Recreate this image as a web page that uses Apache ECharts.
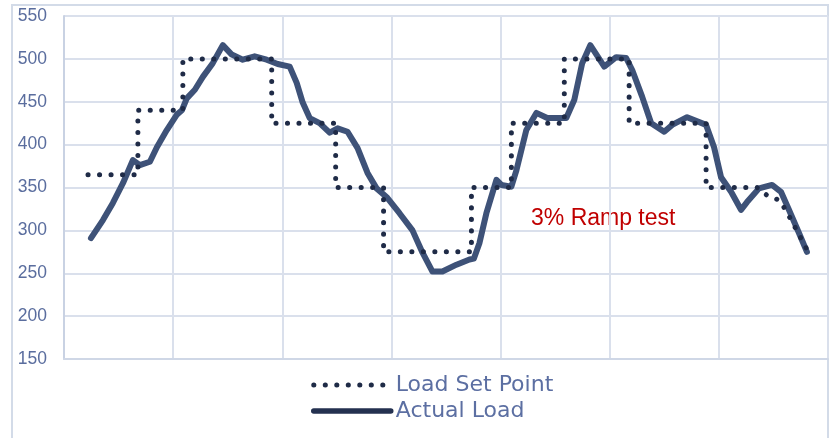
<!DOCTYPE html>
<html>
<head>
<meta charset="utf-8">
<script src="https://cdn.jsdelivr.net/npm/echarts@6/dist/echarts.min.js"></script>
<style>html,body{margin:0;padding:0;background:#fff}#c{width:831px;height:438px}</style>
</head>
<body>
<div id="c"></div>
<script>
// Time axis (grid units, 7 divisions of 10), values in load units
const yTicks = [150, 200, 250, 300, 350, 400, 450, 500, 550];
const seriesNames = ['Load Set Point', 'Actual Load'];
const annotation = '3% Ramp test';

const setPointX = [2.2,6.77,6.77,10.89,10.89,19.03,19.03,24.89,24.89,29.28,29.28,37.33,37.33,40.99,40.99,45.84,45.84,51.78,51.78,58.83,58.83,63.5,64.5,65.6,66.5,68.1];
const setPointY = [365,365,440,440,500,500,425,425,350,350,275,275,350,350,425,425,500,500,425,425,350,350,340,335,315,277];

const actualX = [2.47,3.57,4.48,5.40,6.31,6.95,7.87,8.51,9.42,10.34,10.80,11.25,11.99,12.72,13.63,14.55,15.37,16.38,17.47,18.57,19.58,20.68,21.32,21.87,22.51,23.42,24.34,25.07,25.98,26.90,27.81,28.64,29.55,30.74,31.93,32.85,33.76,34.67,35.96,37.15,37.55,38.06,38.70,39.62,40.07,40.99,41.45,42.36,43.28,44.28,46.02,46.75,47.48,48.22,49.50,50.59,51.51,52.06,52.97,53.80,54.99,55.72,57.09,58.83,59.56,60.20,61.12,62.03,62.58,63.68,64.87,65.69,66.42,67.34,68.07];
const actualY = [291,312,332,355,382,376,380,397,417,435,440,454,464,479,495,516,505,499,503,499,494,491,472,449,431,425,414,419,415,396,367,349,339,320,300,274,252,252,260,266,267,285,320,359,353,351,370,417,437,431,431,452,495,516,491,502,501,487,456,425,415,423,432,423,397,362,345,324,333,349,353,345,324,297,275];

const gridColor = '#dae0ec';
const chart = echarts.init(document.getElementById('c'), null, {renderer: 'canvas'});
chart.setOption({
  animation: false,
  backgroundColor: '#ffffff',
  grid: {left: 64, right: 3, top: 16, bottom: 79},
  xAxis: {
    type: 'value', min: 0, max: 70, interval: 10,
    axisLabel: {show: false}, axisTick: {show: false},
    axisLine: {show: true, lineStyle: {color: '#cfd7e6', width: 2}},
    splitLine: {show: true, lineStyle: {color: gridColor, width: 2}}
  },
  yAxis: {
    type: 'value', min: yTicks[0], max: yTicks[yTicks.length - 1], interval: 50,
    axisLabel: {color: '#5a6d9e', fontSize: 17.5, fontFamily: 'Liberation Sans', margin: 17},
    axisTick: {show: false},
    axisLine: {show: true, lineStyle: {color: '#c9d2e3', width: 2}},
    splitLine: {show: true, lineStyle: {color: gridColor, width: 2}}
  },
  legend: {
    orient: 'vertical', left: 306, top: 369, itemWidth: 77, itemHeight: 14, itemGap: 4,
    itemStyle: {opacity: 0},
    data: [
      {name: seriesNames[0], lineStyle: {color: '#1f2b47', width: 5, type: [0.1, 11.4], cap: 'round'}},
      {name: seriesNames[1], lineStyle: {color: '#243150', width: 5.5}}
    ],
    textStyle: {color: '#5c6fa2', fontSize: 22, fontFamily: 'DejaVu Sans', lineHeight: 22}
  },
  graphic: [
    {type: 'rect', shape: {x: 12, y: 5, width: 816, height: 460}, style: {fill: 'none', stroke: '#d3dbe8', lineWidth: 2}, z: -1, silent: true},
    {type: 'text', left: 531, top: 207, style: {text: annotation, fill: '#c00000', fontSize: 23, fontFamily: 'Liberation Sans'}}
  ],
  series: [
    {
      name: seriesNames[1], type: 'line', symbol: 'none', z: 2, color: '#3e5278',
      data: actualX.map((x, i) => [x, actualY[i]]),
      lineStyle: {color: '#3e5278', width: 6, join: 'round', cap: 'round'}
    },
    {
      name: seriesNames[0], type: 'line', symbol: 'none', z: 3, color: '#1f2b47',
      data: setPointX.map((x, i) => [x, setPointY[i]]),
      lineStyle: {color: '#1f2b47', width: 5, type: [0.1, 11.4], cap: 'round'}
    }
  ]
});
</script>
</body>
</html>
